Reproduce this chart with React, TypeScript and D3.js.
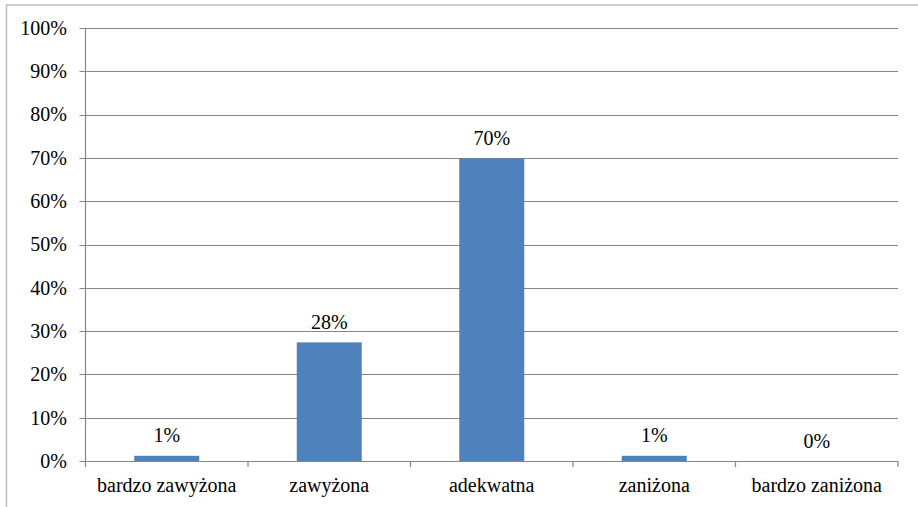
import React from "react";
import * as d3 from "d3";

const categories = ["bardzo zawyżona", "zawyżona", "adekwatna", "zaniżona", "bardzo zaniżona"];
const values = [0.012, 0.274, 0.699, 0.012, 0];
const valueLabels = ["1%", "28%", "70%", "1%", "0%"];
const yTicks = [0, 0.1, 0.2, 0.3, 0.4, 0.5, 0.6, 0.7, 0.8, 0.9, 1.0];

const W = 918;
const H = 507;
const left = 85.5;
const right = 898;
const top = 28;
const bottom = 461;

export default function App() {
  const x = d3.scaleBand<string>().domain(categories).range([left, right]).paddingInner(0.6).paddingOuter(0.3);
  const band = d3.scaleBand<string>().domain(categories).range([left, right]);
  const y = d3.scaleLinear().domain([0, 1]).range([bottom, top]);
  const textStyle = { fontFamily: "Liberation Serif", fontSize: "20px" };
  const gridColor = "#868686";
  const tickXs = [...categories.map((c) => band(c) as number), right];

  return (
    <svg width={W} height={H} style={{ position: "absolute", left: 0, top: 0, background: "#fff" }}>
      <rect x={6.5} y={5} width={W} height={H + 5} fill="#fff" stroke="#BFBFBF" strokeWidth={1.5} />
      {yTicks.map((t) => (
        <g key={t}>
          <line x1={left - 6} x2={right} y1={Math.round(y(t)) + 0.5} y2={Math.round(y(t)) + 0.5} stroke={gridColor} strokeWidth={1.2} />
          <text x={67} y={y(t) + 6.8} textAnchor="end" style={textStyle} fill="#000">
            {d3.format(".0%")(t)}
          </text>
        </g>
      ))}
      <line x1={left} x2={left} y1={top} y2={bottom} stroke={gridColor} strokeWidth={1.2} />
      {tickXs.map((tx, i) => (
        <line key={i} x1={tx} x2={tx} y1={bottom} y2={bottom + 6} stroke={gridColor} strokeWidth={1.2} />
      ))}
      {categories.map((c, i) => {
        const bx = x(c) as number;
        const bw = x.bandwidth();
        const by = y(values[i]);
        return (
          <g key={c}>
            {values[i] > 0 && (
              <rect x={bx} y={by} width={bw} height={bottom - by} fill="#4F81BD" />
            )}
            <text x={bx + bw / 2} y={by - 13.5} textAnchor="middle" style={textStyle} fill="#000">
              {valueLabels[i]}
            </text>
            <text x={(band(c) as number) + band.bandwidth() / 2} y={492} textAnchor="middle" style={textStyle} fill="#000">
              {c}
            </text>
          </g>
        );
      })}
    </svg>
  );
}
